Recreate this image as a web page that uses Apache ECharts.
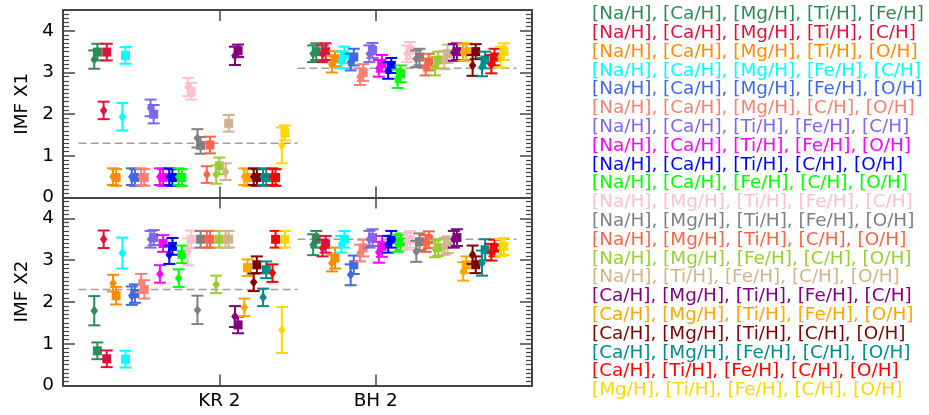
<!DOCTYPE html>
<html>
<head>
<meta charset="utf-8">
<script src="https://cdn.jsdelivr.net/npm/echarts@6/dist/echarts.min.js"></script>
<style>
    html, body { margin: 0; padding: 0; background: #fff; }
    #chart { width: 929px; height: 415px; }
</style>
</head>
<body>
<div id="chart"></div>
<script>
// 分组（x轴标签）
const groups = ['KR 2', 'BH 2'];

// 元素组合（图例）
const combos = [
    '[Na/H], [Ca/H], [Mg/H], [Ti/H], [Fe/H]',
    '[Na/H], [Ca/H], [Mg/H], [Ti/H], [C/H]',
    '[Na/H], [Ca/H], [Mg/H], [Ti/H], [O/H]',
    '[Na/H], [Ca/H], [Mg/H], [Fe/H], [C/H]',
    '[Na/H], [Ca/H], [Mg/H], [Fe/H], [O/H]',
    '[Na/H], [Ca/H], [Mg/H], [C/H], [O/H]',
    '[Na/H], [Ca/H], [Ti/H], [Fe/H], [C/H]',
    '[Na/H], [Ca/H], [Ti/H], [Fe/H], [O/H]',
    '[Na/H], [Ca/H], [Ti/H], [C/H], [O/H]',
    '[Na/H], [Ca/H], [Fe/H], [C/H], [O/H]',
    '[Na/H], [Mg/H], [Ti/H], [Fe/H], [C/H]',
    '[Na/H], [Mg/H], [Ti/H], [Fe/H], [O/H]',
    '[Na/H], [Mg/H], [Ti/H], [C/H], [O/H]',
    '[Na/H], [Mg/H], [Fe/H], [C/H], [O/H]',
    '[Na/H], [Ti/H], [Fe/H], [C/H], [O/H]',
    '[Ca/H], [Mg/H], [Ti/H], [Fe/H], [C/H]',
    '[Ca/H], [Mg/H], [Ti/H], [Fe/H], [O/H]',
    '[Ca/H], [Mg/H], [Ti/H], [C/H], [O/H]',
    '[Ca/H], [Mg/H], [Fe/H], [C/H], [O/H]',
    '[Ca/H], [Ti/H], [Fe/H], [C/H], [O/H]',
    '[Mg/H], [Ti/H], [Fe/H], [C/H], [O/H]'
];

const colors = [
    '#2e8b57', '#dc143c', '#ff8c00', '#00ffff', '#4169e1', '#fa8072', '#7b68ee',
    '#ff00ff', '#0000ff', '#00ff00', '#ffc0cb', '#808080', '#ff6347', '#9acd32',
    '#d2b48c', '#800080', '#ffa500', '#800000', '#008b8b', '#ff0000', '#ffd700'
];

// IMF X1 —— 菱形 / 方形，KR 2 与 BH 2
const x1KrDia    = [3.31, 2.09, 0.50, 1.94, 0.50, 0.50, 2.15, 0.50, 0.50, 0.50, 2.65, 1.42, 0.55, 0.55, 0.62, 3.40, 0.50, 0.50, 0.50, 0.50, 1.25];
const x1KrDiaErr = [0.22, 0.21, 0.20, 0.33, 0.20, 0.20, 0.20, 0.20, 0.20, 0.20, 0.22, 0.22, 0.20, 0.22, 0.20, 0.22, 0.20, 0.20, 0.20, 0.20, 0.43];
const x1KrSq     = [3.49, 3.49, 0.48, 3.41, 0.48, 0.48, 2.00, 0.48, 0.48, 0.48, 2.55, 1.25, 1.26, 0.76, 1.78, 3.52, 0.48, 0.48, 0.48, 0.48, 1.55];
const x1KrSqErr  = [0.20, 0.20, 0.20, 0.20, 0.20, 0.20, 0.22, 0.20, 0.20, 0.20, 0.20, 0.20, 0.20, 0.20, 0.20, 0.15, 0.20, 0.20, 0.20, 0.20, 0.18];
const x1BhDia    = [3.45, 3.45, 3.20, 3.30, 3.25, 2.90, 3.45, 3.10, 3.05, 2.85, 3.45, 3.33, 3.13, 3.15, 3.30, 3.48, 3.48, 3.17, 3.13, 3.20, 3.37];
const x1BhDiaErr = [0.20, 0.20, 0.20, 0.20, 0.20, 0.20, 0.20, 0.20, 0.20, 0.22, 0.20, 0.20, 0.20, 0.22, 0.22, 0.20, 0.20, 0.25, 0.22, 0.22, 0.25];
const x1BhSq     = [3.50, 3.50, 3.33, 3.42, 3.37, 3.00, 3.53, 3.22, 3.17, 2.97, 3.53, 3.37, 3.25, 3.30, 3.45, 3.50, 3.50, 3.50, 3.30, 3.37, 3.50];
const x1BhSqErr  = [0.20, 0.20, 0.18, 0.20, 0.20, 0.20, 0.18, 0.20, 0.18, 0.20, 0.20, 0.20, 0.20, 0.20, 0.22, 0.20, 0.20, 0.18, 0.20, 0.20, 0.20];

// IMF X2 —— 菱形 / 方形，KR 2 与 BH 2
const x2KrDia    = [1.79, 3.50, 2.45, 3.17, 2.15, 2.45, 3.50, 2.67, 3.13, 2.57, 3.20, 1.81, 3.50, 2.42, 3.50, 1.65, 1.87, 2.47, 2.11, 2.69, 1.33];
const x2KrDiaErr = [0.35, 0.21, 0.20, 0.37, 0.22, 0.22, 0.20, 0.21, 0.22, 0.21, 0.32, 0.34, 0.20, 0.21, 0.20, 0.25, 0.21, 0.21, 0.21, 0.21, 0.55];
const x2KrSq     = [0.83, 0.64, 2.15, 0.63, 2.20, 2.30, 3.54, 3.40, 3.33, 3.14, 3.50, 3.50, 3.50, 3.50, 3.50, 1.45, 2.82, 2.89, 2.77, 3.50, 3.50];
const x2KrSqErr  = [0.20, 0.20, 0.21, 0.20, 0.22, 0.22, 0.18, 0.20, 0.20, 0.21, 0.21, 0.20, 0.20, 0.20, 0.20, 0.20, 0.20, 0.20, 0.20, 0.20, 0.20];
const x2BhDia    = [3.37, 3.29, 2.93, 3.38, 2.65, 3.17, 3.50, 3.19, 3.38, 3.40, 3.45, 3.21, 3.40, 3.27, 3.33, 3.50, 2.73, 3.13, 2.93, 3.19, 3.30];
const x2BhDiaErr = [0.25, 0.20, 0.20, 0.20, 0.25, 0.20, 0.20, 0.25, 0.20, 0.20, 0.20, 0.25, 0.20, 0.20, 0.20, 0.20, 0.22, 0.22, 0.30, 0.20, 0.20];
const x2BhSq     = [3.50, 3.38, 3.05, 3.50, 2.89, 3.29, 3.54, 3.33, 3.50, 3.44, 3.50, 3.44, 3.49, 3.30, 3.37, 3.54, 2.89, 2.89, 3.25, 3.29, 3.33];
const x2BhSqErr  = [0.20, 0.20, 0.25, 0.20, 0.22, 0.20, 0.20, 0.25, 0.20, 0.20, 0.20, 0.20, 0.20, 0.20, 0.20, 0.20, 0.20, 0.20, 0.25, 0.20, 0.20];

// 参考虚线（每组一条）
const x1Ref = [1.3, 3.1];
const x2Ref = [2.3, 3.5];

// y轴刻度
const yTicks = [0, 1, 2, 3, 4];

// 布局：每组第一个点的位置与间距
const groupStart = [0.2, 1.6];
const slotStep = 0.06;
const squareShift = 0.02;
const FONT = 'DejaVu Sans';
const FONT_SIZE = 18.4;
const FRAME = '#444';

function slotX(g, i) {
    return groupStart[g] + i * slotStep;
}

// 误差棒 + 标记
function renderErrorBar(params, api) {
    const x = api.value(0);
    const y = api.value(1);
    const err = api.value(2);
    const shape = api.value(3);
    const c = api.coord([x, y]);
    const hi = api.coord([x, y + err]);
    const lo = api.coord([x, y - err]);
    const color = api.visual('color');
    const capW = 6;
    const style = { stroke: color, lineWidth: 2, fill: null };
    let marker;
    if (shape === 1) {
        marker = { type: 'rect', shape: { x: c[0] - 4.5, y: c[1] - 4.5, width: 9, height: 9 }, style: { fill: color } };
    } else {
        marker = {
            type: 'polygon',
            shape: { points: [[c[0], c[1] - 5], [c[0] + 3.8, c[1]], [c[0], c[1] + 5], [c[0] - 3.8, c[1]]] },
            style: { fill: color }
        };
    }
    return {
        type: 'group',
        children: [
            { type: 'line', shape: { x1: c[0], y1: hi[1], x2: c[0], y2: lo[1] }, style: style },
            { type: 'line', shape: { x1: c[0] - capW, y1: hi[1], x2: c[0] + capW, y2: hi[1] }, style: style },
            { type: 'line', shape: { x1: c[0] - capW, y1: lo[1], x2: c[0] + capW, y2: lo[1] }, style: style },
            marker
        ]
    };
}

function panelData(i, krDia, krDiaErr, krSq, krSqErr, bhDia, bhDiaErr, bhSq, bhSqErr) {
    return [
        [slotX(0, i), krDia[i], krDiaErr[i], 0],
        [slotX(0, i) + squareShift, krSq[i], krSqErr[i], 1],
        [slotX(1, i), bhDia[i], bhDiaErr[i], 0],
        [slotX(1, i) + squareShift, bhSq[i], bhSqErr[i], 1]
    ];
}

function refSeries(refs, xIdx, yIdx) {
    return refs.map((v, g) => ({
        type: 'line',
        xAxisIndex: xIdx,
        yAxisIndex: yIdx,
        silent: true,
        symbol: 'none',
        z: 1,
        lineStyle: { color: '#a0a0a0', width: 1.5, type: [8, 4] },
        data: [[slotX(g, 0) - 0.1, v], [slotX(g, combos.length - 1) + 0.1, v]]
    }));
}

function xAxis(gridIndex, position, showLabel) {
    return {
        type: 'value',
        gridIndex: gridIndex,
        position: position,
        min: 0,
        max: 3,
        interval: 1,
        axisLine: { show: true, onZero: false, lineStyle: { color: FRAME, width: 2 } },
        axisTick: { show: true, inside: true, length: 11, customValues: [1, 2], lineStyle: { color: FRAME, width: 1.5 } },
        axisLabel: {
            show: showLabel,
            customValues: [1, 2],
            margin: 7,
            color: '#000',
            fontFamily: FONT,
            fontSize: FONT_SIZE,
            formatter: v => groups[Math.round(v) - 1] || ''
        },
        splitLine: { show: false }
    };
}

function yAxis(gridIndex, position, name) {
    return {
        type: 'value',
        gridIndex: gridIndex,
        position: position,
        min: 0,
        max: 4.5,
        interval: 1,
        name: name,
        nameLocation: 'middle',
        nameGap: 32,
        nameTextStyle: { color: '#000', fontFamily: FONT, fontSize: FONT_SIZE },
        axisLine: { show: true, onZero: false, lineStyle: { color: FRAME, width: 2 } },
        axisTick: { show: true, inside: true, length: 12, customValues: yTicks, lineStyle: { color: FRAME, width: 1.5 } },
        minorTick: { show: true, splitNumber: 10, length: 6, lineStyle: { color: FRAME, width: 1.2 } },
        axisLabel: {
            show: position === 'left',
            customValues: yTicks,
            margin: 9,
            color: '#000',
            fontFamily: FONT,
            fontSize: FONT_SIZE
        },
        splitLine: { show: false }
    };
}

const series = [];
series.push(...refSeries(x1Ref, 0, 0));
series.push(...refSeries(x2Ref, 2, 2));
combos.forEach((name, i) => {
    series.push({
        type: 'custom',
        name: name,
        xAxisIndex: 0,
        yAxisIndex: 0,
        z: 2,
        itemStyle: { color: colors[i] },
        renderItem: renderErrorBar,
        encode: { x: 0, y: 1 },
        data: panelData(i, x1KrDia, x1KrDiaErr, x1KrSq, x1KrSqErr, x1BhDia, x1BhDiaErr, x1BhSq, x1BhSqErr)
    });
    series.push({
        type: 'custom',
        name: name,
        xAxisIndex: 2,
        yAxisIndex: 2,
        z: 2,
        itemStyle: { color: colors[i] },
        renderItem: renderErrorBar,
        encode: { x: 0, y: 1 },
        data: panelData(i, x2KrDia, x2KrDiaErr, x2KrSq, x2KrSqErr, x2BhDia, x2BhDiaErr, x2BhSq, x2BhSqErr)
    });
});

const chart = echarts.init(document.getElementById('chart'));
chart.setOption({
    animation: false,
    backgroundColor: '#fff',
    grid: [
        { left: 63, right: 397, top: 10, height: 187.5 },
        { left: 63, right: 397, top: 197.5, height: 188 }
    ],
    xAxis: [
        xAxis(0, 'bottom', false),
        xAxis(0, 'top', false),
        xAxis(1, 'bottom', true),
        xAxis(1, 'top', false)
    ],
    yAxis: [
        yAxis(0, 'left', 'IMF X1'),
        yAxis(0, 'right', ''),
        yAxis(1, 'left', 'IMF X2'),
        yAxis(1, 'right', '')
    ],
    legend: {
        orient: 'vertical',
        left: 580,
        top: 0,
        itemGap: 0,
        itemWidth: 2,
        itemHeight: 2,
        icon: 'none',
        selectedMode: false,
        textStyle: { fontFamily: FONT, fontSize: FONT_SIZE, lineHeight: 18.8 },
        data: combos.map((name, i) => ({ name: name, textStyle: { color: colors[i] } }))
    },
    series: series
});
</script>
</body>
</html>
